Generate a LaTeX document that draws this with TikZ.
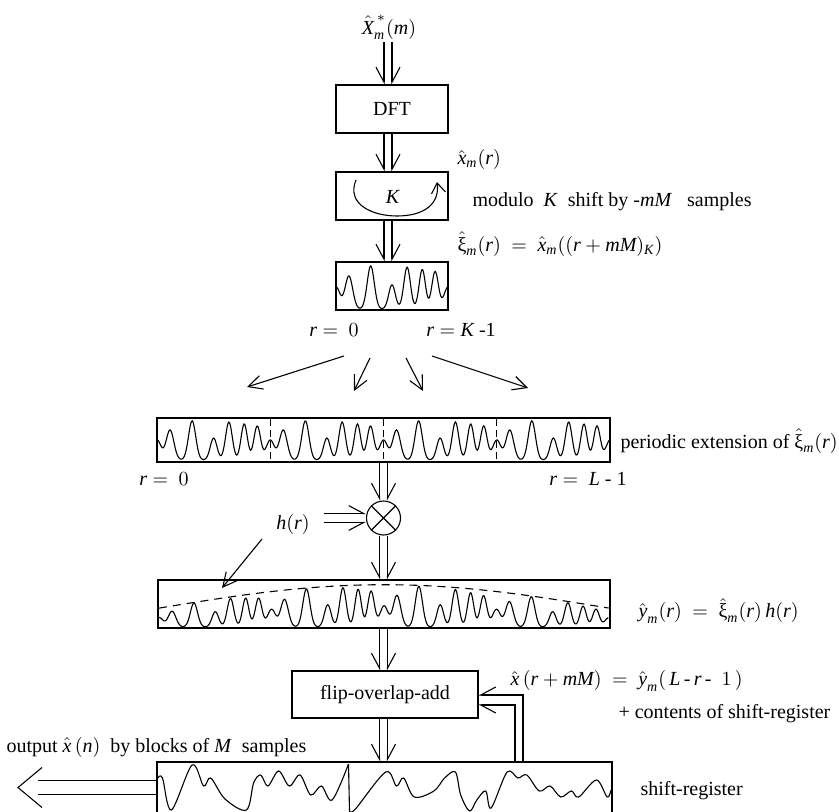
\documentclass[tikz,border=0pt]{standalone}
\usepackage{amsmath}
\usepackage{fontspec}
\setmainfont{Liberation Serif}
\usetikzlibrary{arrows.meta,calc}
\newcommand{\iv}[1]{\textit{#1}}
\newcommand{\hxi}{\hat{\text{ξ}}}
\begin{document}
\begin{tikzpicture}[x=0.5pt,y=-0.5pt,
  font=\fontsize{10}{12}\selectfont,
  line width=0.55pt,
  declare function={
    bp(\u)=exp(-min(\u*\u,40));
    wf(\t)=0.5*bp(\t/0.05)+0.75*bp((\t-0.115)/0.048)+0.98*bp((\t-0.31)/0.045)
      +0.55*bp((\t-0.5)/0.042)+0.95*bp((\t-0.635)/0.042)+0.9*bp((\t-0.77)/0.04)
      +0.85*bp((\t-0.885)/0.042)+0.5*bp((\t-1)/0.05);
    pw(\t)=wf(\t-floor(\t));
    win(\s)=0.42+0.52*sin(180*\s);
  },
  box/.style={draw, inner sep=0pt, line width=0.6pt},
  sarrow/.style={-{Straight Barb[length=7pt,width=7pt]}},
  dblv/.style={draw=none,
    preaction={draw, transform canvas={xshift=-2pt}, -{Straight Barb[harpoon,swap,length=7.5pt,width=8pt]}},
    postaction={draw, transform canvas={xshift=2pt}, -{Straight Barb[harpoon,length=7.5pt,width=8pt]}}},
  dblh/.style={draw=none,
    preaction={draw, transform canvas={yshift=2.2pt}, -{Straight Barb[harpoon,length=7.5pt,width=8pt]}},
    postaction={draw, transform canvas={yshift=-2.2pt}, -{Straight Barb[harpoon,swap,length=7.5pt,width=8pt]}}},
  lbl/.style={inner sep=1pt}
]
\useasboundingbox (0,0) rectangle (839,812);

% column coordinates
\coordinate (c1) at (388,0);
\coordinate (c2) at (383.5,0);

% ---------- top chain ----------
\node[lbl] (in) at (389,27) {$\hat{\iv{X}}^{\,*}_{\iv{m}}(\iv{m})$};
\node[box, minimum width=56pt, minimum height=24pt] (dft) at (392,109) {DFT};
\node[box, minimum width=56pt, minimum height=24pt] (kbox) at (392,196) {};
\node[lbl] (klab) at (393,197) {\iv{K}};
\node[box, minimum width=56pt, minimum height=24pt] (wbox) at (392,286) {};

\draw[dblv] (c1 |- in.south) -- (c1 |- dft.north);
\draw[dblv] (c1 |- dft.south) -- (c1 |- kbox.north);
\draw[dblv] (c1 |- kbox.south) -- (c1 |- wbox.north);

% circular shift arrow
\coordinate (arcA) at (356,180);
\coordinate (arcB) at (437,182);
\draw[-{Straight Barb[length=5pt,width=7pt]}] (arcA) .. controls (346,204) and (372,216) .. (397,216)
   .. controls (424,216) and (440,204) .. (arcB);

% small waveform
\draw plot[domain=0:1, samples=160] ({336+112*\x}, {309-44*wf(\x)});

% labels
\node[lbl, anchor=west] (xm) at (455,160) {$\hat{\iv{x}}_{\iv{m}}(\iv{r})$};
\node[lbl, anchor=west] (mod) at (470,202) {modulo\ \ \iv{K}\ \ shift by -\iv{mM}\ \ \ samples};
\node[lbl, anchor=west] (xi) at (455,244) {$\hxi_{\iv{m}}(\iv{r})\ =\ \hat{\iv{x}}_{\iv{m}}((\iv{r}+\iv{mM})_{\iv{K}})$};
\node[lbl] (r0a) at (334,330) {$\iv{r} =\ 0$};
\node[lbl] (rKa) at (461,330) {$\iv{r} = \iv{K}$\ -1};

% fan arrows
\coordinate (f1s) at (344,356); \coordinate (f1e) at (247,387);
\coordinate (f2s) at (370,358); \coordinate (f2e) at (354,391);
\coordinate (f3s) at (406,358); \coordinate (f3e) at (423,391);
\coordinate (f4s) at (432,356); \coordinate (f4e) at (528,388);
\draw[sarrow] (f1s) -- (f1e);
\draw[sarrow] (f2s) -- (f2e);
\draw[sarrow] (f3s) -- (f3e);
\draw[sarrow] (f4s) -- (f4e);

% ---------- periodic extension ----------
\node[box, minimum width=226.5pt, minimum height=22pt] (pbox) at (383.5,440) {};
\foreach \k in {1,2,3} \draw[dash pattern=on 3.5pt off 2pt] ({157+113.25*\k},419) -- ({157+113.25*\k},461);
\draw plot[domain=0:4, samples=500] ({157+113.25*\x}, {460-40*pw(\x)});
\node[lbl, anchor=west] (pe) at (618,441) {periodic extension of $\hxi_{\iv{m}}(\iv{r})$};
\node[lbl] (r0b) at (164,479) {$\iv{r} =\ 0$};
\node[lbl] (rLb) at (588,479) {$\iv{r} =\ \iv{L}$\ -\ 1};

% ---------- multiplier ----------
\node[draw, circle, minimum size=17pt, inner sep=0pt] (mult) at (383.5,518) {};
\draw (mult.north west) -- (mult.south east) (mult.north east) -- (mult.south west);
\draw[dblv] (c2 |- pbox.south) -- (c2 |- mult.north);
\node[lbl] (hr) at (293,524) {$\iv{h}(\iv{r})$};
\coordinate (hs) at (324,518);
\draw[dblh] (hs) -- (mult.west);

% ---------- windowed ----------
\node[box, minimum width=226pt, minimum height=24pt] (winbox) at (384,604) {};
\draw[dblv] (c2 |- mult.south) -- (c2 |- winbox.north);
\draw[dash pattern=on 4pt off 3pt] plot[domain=0:1, samples=80] ({159+450*\x}, {627-45*win(\x)});
\draw plot[domain=0:4, samples=600] ({159+112.5*\x}, {627-45*pw(\x)*win(\x/4)});
\coordinate (ps) at (262,539);
\coordinate (pe2) at (222,588);
\draw[sarrow] (ps) -- (pe2);
\node[lbl, anchor=west] (yl) at (636,611) {$\hat{\iv{y}}_{\iv{m}}(\iv{r})\ =\ \hxi_{\iv{m}}(\iv{r})\,\iv{h}(\iv{r})$};

% ---------- flip-overlap-add ----------
\node[box, minimum width=93pt, minimum height=23.5pt] (fob) at (385,694.5) {flip-overlap-add};
\draw[dblv] (c2 |- winbox.south) -- (c2 |- fob.north);
\node[lbl, anchor=west] (xr) at (508,681) {$\hat{\iv{x}}\,(\iv{r}+\iv{mM})\ =\ \hat{\iv{y}}_{\iv{m}}(\,\iv{L}\,\text{-}\,\iv{r}\,\text{-}\ \ 1\,)$};
\node[lbl, anchor=west] (cont) at (616,714) {+ contents of shift-register};

% ---------- shift register ----------
\node[box, minimum width=227.5pt, minimum height=25.5pt] (sr) at (384.5,787.5) {};
\draw[dblv] (c2 |- fob.south) -- (c2 |- sr.north);
\draw plot[smooth, tension=0.55] coordinates {
 (158,778) (162.5,778) (171.4,810) (192.1,765) (203.6,786) (210.7,778) (225,799)
 (246.4,810) (253.6,783) (260.7,775) (267.9,786) (278.6,771) (289.3,786) (300,775)
 (310.7,795) (321.4,786) (332.1,800) (348.5,764)};
\draw (348.5,764) -- (349.5,811);
\draw plot[smooth, tension=0.55] coordinates {
 (349.5,811) (355.4,809) (385.7,772) (396.4,786) (403.6,778) (414.3,797) (433.9,791)
 (444.6,778) (455.4,772) (460.7,795) (469.6,811) (476.8,800) (485.7,791) (491.1,808)
 (507.1,772) (517.9,778) (526.8,775) (539.3,791) (550,786) (560.7,797) (571.4,791)
 (578.6,797) (596.4,780) (607.1,797) (611,790)};
\node[lbl, anchor=west] (srl) at (638,791) {shift-register};
\node[lbl, anchor=west] (outl) at (4,747) {output $\hat{\iv{x}}\,(\iv{n})$\ \ by blocks of \iv{M}\ \ samples};

% feedback path
\coordinate (fb) at (519,0);
\draw[-{Straight Barb[harpoon,swap,length=7.5pt,width=8pt]}] ($(sr.north -| fb)+(4,0)$) |- ($(fob.east)+(0,0.5)$);
\draw[-{Straight Barb[harpoon,length=7.5pt,width=8pt]}] ($(sr.north -| fb)+(-4,0)$) |- ($(fob.east)+(0,10.5)$);

% output arrow
\coordinate (oe) at (18,784);
\draw ($(sr.west)+(0,-7)$) -- ($(sr.west -| oe)+(20,-7)$);
\draw ($(sr.west)+(0,7)$) -- ($(sr.west -| oe)+(20,7)$);
\draw ($(sr.west -| oe)+(24,-20)$) -- (sr.west -| oe) -- ($(sr.west -| oe)+(24,20)$);
\end{tikzpicture}
\end{document}
